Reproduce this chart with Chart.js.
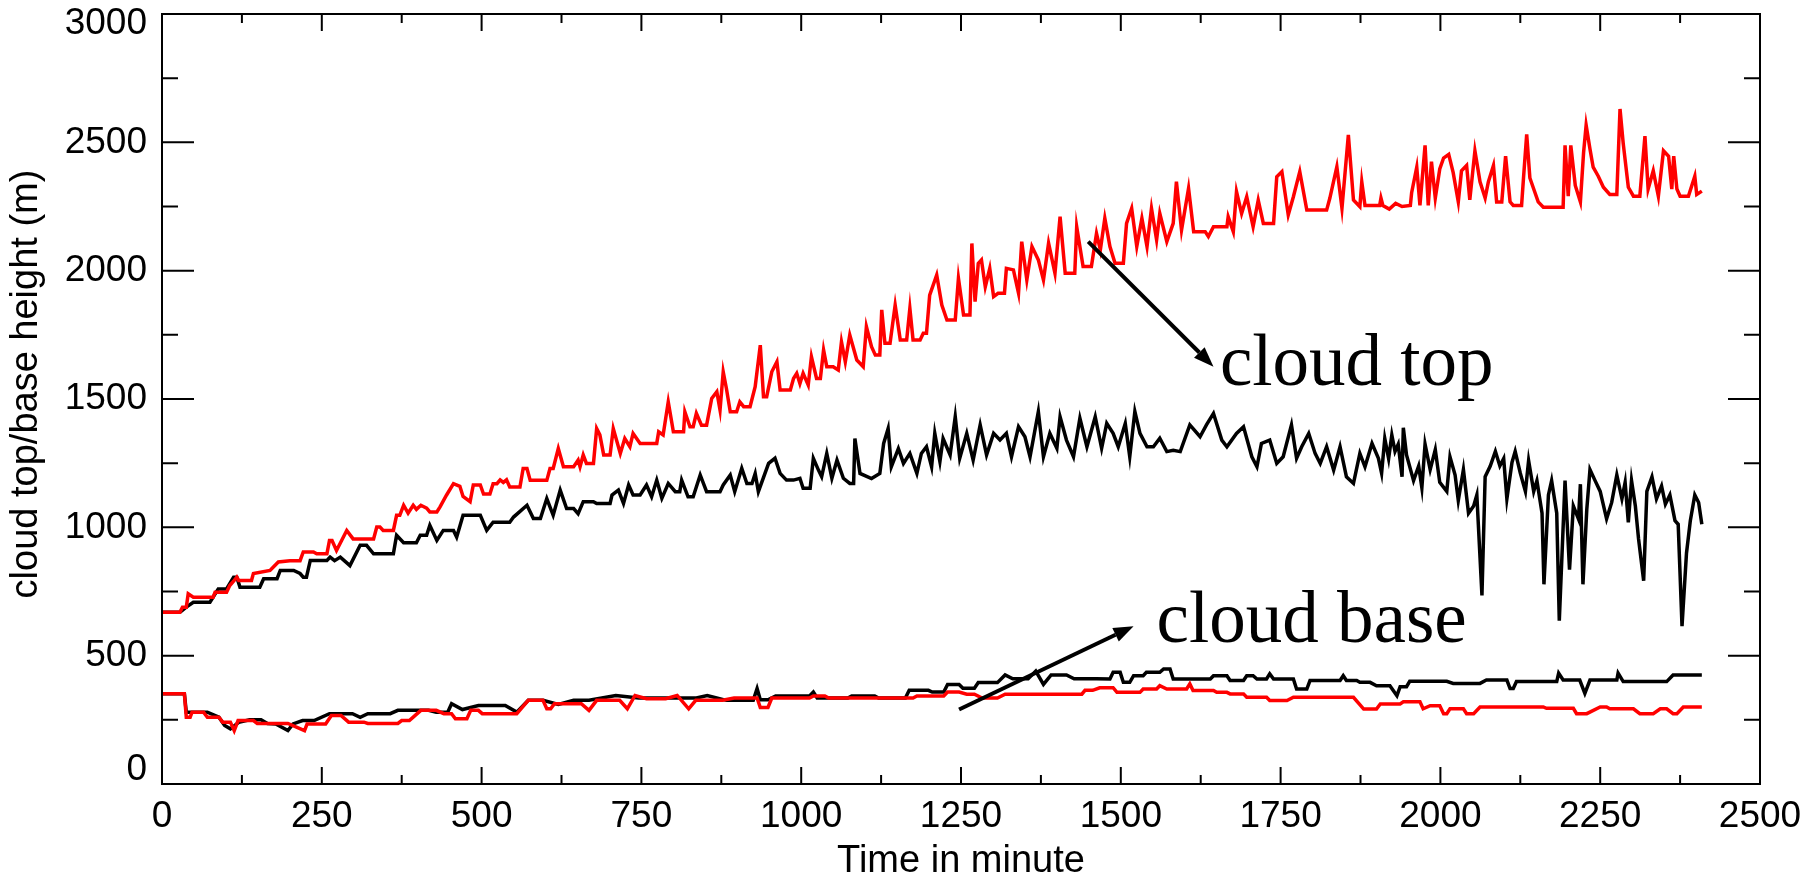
<!DOCTYPE html>
<html><head><meta charset="utf-8">
<script src="https://cdn.jsdelivr.net/npm/chart.js@4"></script>
<style>html,body{margin:0;padding:0;background:#fff;overflow:hidden}canvas{display:block}</style>
</head><body>
<canvas id="c" width="1818" height="876"></canvas>
<script>
// ---------- data ----------
const xTickValues = [0, 250, 500, 750, 1000, 1250, 1500, 1750, 2000, 2250, 2500];
const xMinorValues = [125, 375, 625, 875, 1125, 1375, 1625, 1875, 2125, 2375];
const yTickValues = [0, 500, 1000, 1500, 2000, 2500, 3000];
const yMinorValues = [250, 750, 1250, 1750, 2250, 2750];
const xTitle = 'Time in minute';
const yTitle = 'cloud top/base height (m)';

const redTopT = [0,28,32,38,41,49,80,83,101,106,112,117,120,140,143,169,182,200,216,221,237,242,258,262,266,273,281,289,299,331,336,341,346,362,367,372,378,385,393,398,405,414,419,430,435,445,456,466,471,482,487,498,503,513,518,524,529,534,539,544,560,565,571,576,602,607,612,620,628,644,651,654,659,664,675,680,685,691,701,706,717,724,732,737,748,774,777,784,792,800,816,818,826,831,836,844,852,860,868,873,878,883,889,899,904,910,920,928,936,941,946,954,962,967,983,988,993,998,1003,1011,1016,1024,1030,1035,1040,1050,1058,1063,1069,1076,1087,1097,1102,1110,1116,1123,1126,1131,1139,1147,1155,1165,1170,1175,1186,1191,1196,1201,1212,1220,1228,1241,1246,1254,1264,1267,1272,1277,1282,1288,1295,1301,1308,1318,1321,1332,1340,1345,1353,1361,1371,1379,1387,1397,1405,1413,1428,1431,1441,1454,1462,1468,1475,1483,1491,1504,1509,1517,1525,1533,1541,1548,1556,1561,1572,1582,1587,1595,1606,1614,1632,1637,1645,1666,1668,1676,1681,1689,1697,1707,1715,1723,1739,1744,1752,1762,1770,1780,1791,1822,1827,1838,1846,1856,1864,1874,1877,1882,1905,1907,1910,1920,1930,1940,1953,1955,1963,1968,1976,1981,1986,1992,1999,2005,2013,2020,2028,2033,2041,2046,2054,2062,2070,2075,2083,2088,2096,2102,2109,2114,2127,2130,2135,2140,2146,2153,2161,2192,2195,2200,2204,2211,2219,2224,2228,2234,2239,2247,2255,2265,2276,2281,2286,2294,2302,2312,2320,2325,2333,2341,2349,2357,2362,2365,2370,2375,2388,2398,2401,2409];
const redTopV = [669,669,689,689,741,728,728,747,747,773,790,806,793,793,820,832,865,870,870,904,904,897,897,949,949,910,949,988,955,955,1001,1001,988,988,1047,1047,1086,1055,1086,1070,1086,1075,1060,1060,1080,1125,1170,1160,1120,1100,1165,1165,1130,1130,1170,1170,1185,1175,1185,1157,1157,1229,1229,1183,1183,1229,1229,1307,1236,1236,1262,1236,1282,1249,1249,1385,1360,1282,1282,1385,1288,1346,1314,1366,1327,1327,1372,1360,1489,1372,1372,1450,1392,1392,1444,1398,1398,1502,1528,1457,1606,1541,1450,1450,1489,1470,1470,1548,1710,1509,1509,1606,1645,1535,1535,1580,1600,1560,1600,1554,1665,1580,1580,1691,1626,1626,1613,1723,1645,1749,1652,1626,1782,1704,1671,1671,1847,1717,1717,1866,1730,1730,1853,1730,1730,1756,1756,1905,1983,1866,1808,1808,1970,1827,1827,2106,1879,2028,2042,1937,2009,1899,1912,1912,2009,2003,1912,2113,1964,2094,2042,1964,2107,1990,2210,1990,1990,2171,2016,2016,2145,2081,2204,2094,2029,2029,2184,2243,2094,2204,2094,2243,2120,2223,2113,2184,2347,2158,2321,2152,2152,2133,2171,2171,2210,2152,2308,2223,2288,2171,2275,2184,2184,2366,2386,2217,2288,2386,2236,2236,2282,2405,2243,2529,2275,2249,2346,2254,2254,2283,2254,2240,2262,2250,2254,2304,2403,2254,2488,2254,2425,2283,2396,2439,2453,2382,2268,2389,2410,2276,2467,2346,2283,2346,2410,2268,2268,2446,2268,2254,2254,2361,2531,2361,2318,2268,2247,2247,2488,2290,2488,2332,2268,2460,2567,2474,2403,2368,2325,2297,2297,2630,2496,2325,2290,2290,2524,2318,2389,2290,2467,2446,2318,2446,2318,2290,2290,2368,2297,2310];

const blackTopT = [0,28,38,49,75,88,101,112,117,122,153,159,180,185,206,216,221,226,232,258,263,270,279,294,310,320,331,362,367,378,398,404,414,419,430,440,456,461,471,482,492,498,508,518,544,550,571,581,592,602,612,623,633,644,651,659,675,680,701,704,714,722,730,737,748,758,766,774,782,792,803,810,813,823,831,842,852,873,878,889,896,907,915,923,928,933,949,959,967,977,988,998,1003,1014,1019,1027,1032,1040,1048,1056,1066,1076,1082,1084,1092,1110,1123,1129,1136,1141,1152,1160,1170,1181,1188,1196,1204,1209,1217,1222,1233,1241,1248,1259,1269,1280,1290,1301,1311,1321,1329,1340,1350,1358,1371,1379,1389,1400,1405,1415,1426,1436,1447,1460,1470,1478,1488,1496,1507,1514,1522,1530,1541,1551,1561,1572,1582,1593,1608,1624,1634,1645,1658,1666,1681,1692,1705,1713,1720,1733,1744,1754,1767,1775,1783,1794,1804,1812,1822,1833,1843,1853,1864,1874,1882,1893,1903,1908,1913,1919,1924,1929,1934,1940,1942,1947,1958,1966,1971,1976,1984,1992,1999,2010,2015,2023,2028,2036,2044,2052,2057,2065,2070,2078,2086,2093,2099,2104,2112,2117,2125,2133,2138,2146,2151,2159,2162,2169,2174,2182,2186,2195,2202,2208,2216,2219,2223,2229,2234,2242,2250,2260,2268,2276,2284,2289,2294,2299,2305,2310,2318,2323,2331,2338,2346,2352,2359,2367,2372,2378,2385,2391,2398,2404,2409];
const blackTopV = [669,669,689,708,708,760,760,806,806,767,767,800,800,832,832,820,806,806,871,871,884,870,884,851,930,930,897,897,969,940,940,969,969,1008,949,988,988,962,1047,1047,1047,1047,988,1020,1020,1040,1086,1034,1034,1112,1047,1145,1073,1073,1053,1100,1100,1093,1093,1126,1145,1093,1165,1126,1126,1165,1119,1184,1113,1171,1139,1139,1184,1119,1119,1204,1139,1139,1165,1204,1139,1230,1171,1171,1210,1139,1249,1269,1210,1184,1184,1191,1152,1152,1269,1223,1197,1288,1191,1262,1191,1171,1171,1346,1210,1190,1210,1327,1385,1236,1307,1249,1288,1210,1288,1314,1236,1366,1256,1346,1282,1431,1269,1366,1262,1399,1282,1366,1340,1366,1275,1392,1353,1275,1451,1275,1366,1308,1431,1340,1275,1425,1314,1431,1308,1405,1366,1314,1405,1275,1451,1366,1314,1314,1347,1295,1300,1295,1399,1353,1399,1444,1340,1314,1366,1392,1275,1236,1327,1340,1249,1275,1399,1269,1314,1366,1288,1249,1314,1223,1314,1197,1171,1288,1236,1327,1269,1211,1346,1268,1360,1296,1324,1197,1388,1282,1182,1239,1154,1324,1225,1303,1175,1140,1275,1204,1104,1225,1055,1083,1126,735,1197,1239,1296,1239,1268,1111,1253,1296,1211,1140,1260,1140,1182,1055,778,1126,1182,1055,636,1182,835,1083,1033,1168,778,1069,1225,1182,1140,1033,1097,1204,1111,1175,1019,1182,1083,955,792,1140,1197,1111,1161,1090,1126,1026,1012,615,899,1026,1126,1097,1012];

const redBaseT = [0,35,38,44,47,65,71,89,95,107,113,119,143,149,197,223,227,256,265,280,292,316,322,369,375,387,405,429,441,453,459,477,483,495,501,555,573,596,602,608,614,656,668,680,716,728,740,758,788,806,824,835,877,895,931,936,948,954,1013,1019,1037,1043,1175,1181,1223,1229,1247,1259,1271,1283,1307,1319,1439,1444,1456,1467,1488,1494,1530,1535,1556,1561,1572,1603,1608,1613,1645,1650,1666,1671,1692,1697,1728,1733,1760,1770,1864,1880,1900,1906,1937,1942,1968,1973,1984,1999,2005,2010,2015,2036,2041,2052,2062,2161,2166,2208,2213,2229,2250,2260,2265,2302,2312,2333,2344,2354,2364,2370,2380,2409];
const redBaseV = [352,352,260,260,280,280,260,260,241,241,208,247,247,236,236,208,234,234,267,267,241,241,236,236,247,247,287,287,274,274,254,254,287,287,274,274,326,326,293,293,313,313,287,326,326,293,345,332,332,345,293,326,326,335,335,298,298,335,335,343,343,335,335,343,343,358,358,350,350,335,335,350,350,365,365,375,375,357,357,370,370,383,370,370,390,364,364,357,357,351,351,338,338,325,325,338,338,292,292,312,312,320,320,293,305,305,274,274,293,293,274,274,300,300,295,295,274,274,300,300,293,293,274,274,293,293,274,274,300,300];

const blackBaseT = [0,35,38,71,89,98,107,120,137,155,165,178,197,205,220,238,262,298,310,322,357,369,417,429,447,453,470,495,537,555,573,596,620,644,668,710,746,836,853,883,925,931,936,948,960,1013,1019,1025,1073,1079,1115,1121,1163,1169,1199,1205,1223,1229,1247,1253,1271,1277,1307,1319,1331,1355,1367,1379,1391,1415,1427,1462,1483,1488,1499,1504,1514,1520,1535,1540,1561,1567,1577,1582,1640,1645,1666,1671,1692,1697,1707,1713,1728,1733,1739,1770,1775,1791,1796,1843,1848,1853,1869,1874,1890,1900,1921,1932,1937,1947,1952,2010,2020,2062,2072,2104,2109,2114,2119,2182,2185,2192,2218,2226,2234,2276,2278,2286,2354,2364,2409];
const blackBaseV = [352,352,280,280,260,228,215,240,250,250,236,234,208,234,247,247,274,274,260,274,274,287,287,280,280,313,290,306,306,280,326,326,310,326,326,345,335,335,345,326,326,372,328,328,343,343,358,335,335,343,343,335,335,365,365,358,358,388,388,373,373,395,395,425,410,410,440,388,425,425,410,410,409,435,435,396,396,422,422,435,435,448,448,409,409,422,422,403,403,422,422,409,409,429,409,409,370,370,403,403,422,403,403,396,396,383,383,344,379,379,400,400,392,392,405,405,372,372,399,399,432,405,405,353,405,405,432,399,399,425,425];

// annotations in data coordinates: [x0, y0, x1(tip), y1(tip)]
const arrowTop = [1449, 2113, 1645, 1626];
const arrowBase = [1247, 290, 1520, 615];
const labelTop = ['cloud top', 1655, 1554];
const labelBase = ['cloud base', 1556, 554];

// ---------- chart ----------
const pts = (t, v) => t.map((x, i) => ({x: x, y: v[i]}));

function drawArrow(ctx, x0, y0, x1, y1, head, w) {
  const a = Math.atan2(y1 - y0, x1 - x0);
  const bx = x1 - head * Math.cos(a), by = y1 - head * Math.sin(a);
  ctx.beginPath(); ctx.moveTo(x0, y0); ctx.lineTo(bx, by); ctx.stroke();
  ctx.beginPath(); ctx.moveTo(x1, y1);
  ctx.lineTo(bx + w / 2 * Math.sin(a), by - w / 2 * Math.cos(a));
  ctx.lineTo(bx - w / 2 * Math.sin(a), by + w / 2 * Math.cos(a));
  ctx.closePath(); ctx.fill();
}

const framePlugin = {
  id: 'frame',
  afterDatasetsDraw(chart) {
    const {ctx, chartArea: a, scales: {x, y}} = chart;
    ctx.save();
    ctx.strokeStyle = '#000'; ctx.fillStyle = '#000'; ctx.lineWidth = 2;
    ctx.strokeRect(a.left, a.top, a.right - a.left, a.bottom - a.top);
    ctx.beginPath();
    const xt = (v, len) => { const p = x.getPixelForValue(v);
      ctx.moveTo(p, a.bottom); ctx.lineTo(p, a.bottom - len);
      ctx.moveTo(p, a.top); ctx.lineTo(p, a.top + len); };
    const yt = (v, len) => { const p = y.getPixelForValue(v);
      ctx.moveTo(a.left, p); ctx.lineTo(a.left + len, p);
      ctx.moveTo(a.right, p); ctx.lineTo(a.right - len, p); };
    xTickValues.forEach(v => xt(v, 17));
    xMinorValues.forEach(v => xt(v, 9));
    yTickValues.forEach(v => yt(v, 32));
    yMinorValues.forEach(v => yt(v, 16));
    ctx.stroke();
    // y tick labels (end labels kept inside the axis span, as in the reference)
    ctx.font = '37px "Liberation Sans", Arial, sans-serif';
    ctx.textAlign = 'right'; ctx.textBaseline = 'middle';
    yTickValues.forEach(v => {
      const p = Math.min(Math.max(y.getPixelForValue(v), a.top + 10), a.bottom - 14);
      ctx.fillText(String(v), a.left - 15, p);
    });
    // arrows and labels
    ctx.lineWidth = 4;
    [arrowTop, arrowBase].forEach(r => drawArrow(ctx,
      x.getPixelForValue(r[0]), y.getPixelForValue(r[1]),
      x.getPixelForValue(r[2]), y.getPixelForValue(r[3]), 20, 15));
    ctx.font = '73px "Liberation Serif", "Times New Roman", serif';
    ctx.textBaseline = 'alphabetic'; ctx.textAlign = 'left';
    [labelTop, labelBase].forEach(l => ctx.fillText(l[0], x.getPixelForValue(l[1]), y.getPixelForValue(l[2])));
    // y axis title
    ctx.save();
    ctx.font = '38px "Liberation Sans", Arial, sans-serif';
    ctx.textAlign = 'center'; ctx.textBaseline = 'middle';
    ctx.translate(27, (a.top + a.bottom) / 2 - 15);
    ctx.rotate(-Math.PI / 2);
    ctx.fillText(yTitle, 0, 0);
    ctx.restore();
    ctx.restore();
  }
};

Chart.defaults.font.family = '"Liberation Sans", Arial, sans-serif';
Chart.defaults.color = '#000';

new Chart(document.getElementById('c'), {
  type: 'line',
  data: {
    datasets: [
      {label: 'cloud top (red)', data: pts(redTopT, redTopV), borderColor: '#ff0000'},
      {label: 'cloud base (red)', data: pts(redBaseT, redBaseV), borderColor: '#ff0000'},
      {label: 'cloud top (black)', data: pts(blackTopT, blackTopV), borderColor: '#000000'},
      {label: 'cloud base (black)', data: pts(blackBaseT, blackBaseV), borderColor: '#000000'}
    ]
  },
  options: {
    responsive: false, animation: false, devicePixelRatio: 1,
    layout: {padding: {left: 0, top: 14, right: 58, bottom: 0}},
    elements: {point: {radius: 0}, line: {borderWidth: 3.5, tension: 0, borderJoinStyle: 'miter'}},
    plugins: {legend: {display: false}, tooltip: {enabled: false}},
    scales: {
      x: {
        type: 'linear', min: 0, max: 2500,
        afterBuildTicks: s => { s.ticks = xTickValues.map(v => ({value: v})); },
        afterFit: s => { s.height = 92; s.paddingLeft = 0; s.paddingRight = 0; },
        grid: {display: false, drawTicks: false}, border: {display: false},
        ticks: {color: '#000', font: {size: 37}, padding: 11, maxRotation: 0, autoSkip: false, callback: v => String(v)},
        title: {display: true, text: xTitle, color: '#000', font: {size: 38, lineHeight: 1.2}, padding: {top: 0, bottom: -8}}
      },
      y: {
        type: 'linear', min: 0, max: 3000,
        afterBuildTicks: s => { s.ticks = yTickValues.map(v => ({value: v})); },
        afterFit: s => { s.width = 162; s.paddingTop = 0; s.paddingBottom = 0; },
        grid: {display: false, drawTicks: false}, border: {display: false},
        ticks: {display: false},
        title: {display: false}
      }
    }
  },
  plugins: [framePlugin]
});
</script>
</body></html>
